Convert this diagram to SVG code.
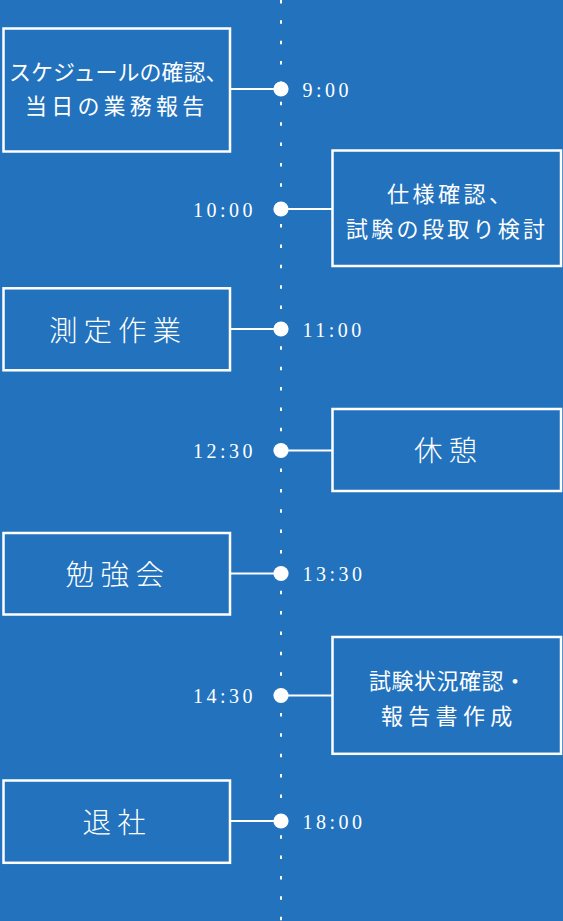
<svg xmlns="http://www.w3.org/2000/svg" width="563" height="921" viewBox="0 0 563 921">
<style>
.box{fill:none;stroke:#fff;stroke-width:2.5}
.t{font-family:"Noto Sans CJK JP","Noto Sans",sans-serif;font-size:22px;fill:#fff}
.big{font-size:28.5px;font-weight:300}
.tm{font-family:"Liberation Serif","DejaVu Serif",serif;font-size:20px;letter-spacing:3.5px;fill:#fff}
.l{text-anchor:end}
.conn line{stroke:#fff;stroke-width:2}
.conn circle{fill:#fff}
</style>
<rect width="563" height="921" fill="#2272be"/>
<g id="connectors" class="conn">
<line x1="281" y1="0" x2="281" y2="921" stroke-width="3.5" stroke-dasharray="3.5 16.87"/>
<line x1="231" y1="89" x2="281" y2="89"/><circle cx="281" cy="89" r="7.6"/>
<line x1="281" y1="209" x2="332" y2="209"/><circle cx="281" cy="209" r="7.6"/>
<line x1="231" y1="329" x2="281" y2="329"/><circle cx="281" cy="329" r="7.6"/>
<line x1="281" y1="450.5" x2="332" y2="450.5"/><circle cx="281" cy="450.5" r="7.6"/>
<line x1="231" y1="573.5" x2="281" y2="573.5"/><circle cx="281" cy="573.5" r="7.6"/>
<line x1="281" y1="695.5" x2="332" y2="695.5"/><circle cx="281" cy="695.5" r="7.6"/>
<line x1="231" y1="821" x2="281" y2="821"/><circle cx="281" cy="821" r="7.6"/>
</g>
<g id="t0900"><text class="tm" x="302.5" y="96.5">9:00</text></g>
<g id="t1000"><text class="tm l" x="256" y="216.5">10:00</text></g>
<g id="t1100"><text class="tm" x="302.5" y="336.5">11:00</text></g>
<g id="t1230"><text class="tm l" x="256" y="458">12:30</text></g>
<g id="t1330"><text class="tm" x="302.5" y="581">13:30</text></g>
<g id="t1430"><text class="tm l" x="256" y="703">14:30</text></g>
<g id="t1800"><text class="tm" x="302.5" y="828.5">18:00</text></g>
<g id="n1">
<rect class="box" x="3.5" y="28.5" width="226.5" height="123"/>
<text class="t" x="9" y="80">スケジュールの確認、</text>
<text class="t" x="25" y="114" letter-spacing="4.2">当日の業務報告</text>
</g>
<g id="n2">
<rect class="box" x="332.5" y="150.5" width="228.5" height="115.5"/>
<text class="t" x="387" y="202" letter-spacing="3.5">仕様確認、</text>
<text class="t" x="346" y="237" letter-spacing="3.3">試験の段取り検討</text>
</g>
<g id="n3">
<rect class="box" x="3.5" y="288.3" width="226.5" height="82"/>
<text class="t big" x="49" y="340.5" letter-spacing="6">測定作業</text>
</g>
<g id="n4">
<rect class="box" x="332.5" y="409" width="228.5" height="82"/>
<text class="t big" x="414" y="460.5" letter-spacing="6">休憩</text>
</g>
<g id="n5">
<rect class="box" x="3.5" y="533" width="226.5" height="81.5"/>
<text class="t big" x="65.5" y="585" letter-spacing="6.5">勉強会</text>
</g>
<g id="n6">
<rect class="box" x="332.5" y="637" width="228.5" height="116.8"/>
<text class="t" x="369" y="689" letter-spacing="0.5">試験状況確認・</text>
<text class="t" x="381" y="724" letter-spacing="5.3">報告書作成</text>
</g>
<g id="n7">
<rect class="box" x="3.5" y="780.5" width="226.5" height="82.3"/>
<text class="t big" x="82.5" y="832.5" letter-spacing="6.2">退社</text>
</g>
</svg>
